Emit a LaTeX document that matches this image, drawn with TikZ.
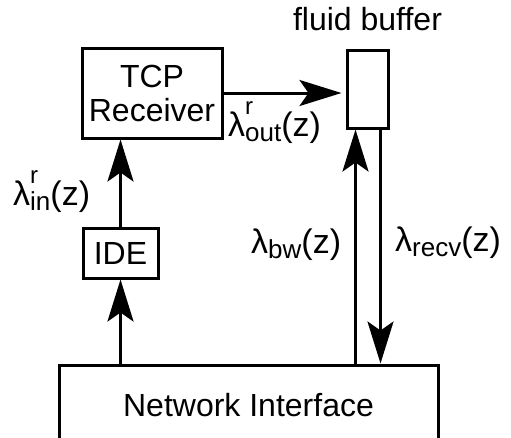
\documentclass[tikz,border=0pt]{standalone}
\usepackage{fontspec}
\setmainfont{Liberation Sans}
\usetikzlibrary{arrows.meta,positioning}

\newcommand{\rate}[2]{λ\rlap{\raisebox{22pt}{\fontsize{24}{24}\selectfont #1}}\raisebox{-5pt}{\fontsize{26}{26}\selectfont #2}(z)}

\begin{document}
\begin{tikzpicture}[x=1pt,y=-1pt,font=\fontsize{32}{34}\selectfont]
    \tikzstyle{box}=[rectangle,draw=black,line width=3pt,inner sep=0pt,align=center]
    \tikzstyle{lbl}=[inner sep=0pt,anchor=base west,font=\fontsize{34}{36}\selectfont]
    \tikzstyle{flow}=[line width=3pt,-{Stealth[length=42pt,width=26pt,inset=9pt]}]

    \useasboundingbox (0,0) rectangle (511,437);

    \node[box,minimum width=140pt,minimum height=90pt](tcp) at (152,93){TCP\\Receiver};
    \node[box,minimum width=41pt,minimum height=78pt](buf) at (367.5,89){};
    \node[inner sep=0pt,anchor=base](fluid) at ([yshift=18pt]buf.north){fluid buffer};
    \node[box,minimum width=75pt,minimum height=50pt](ide) at (120.5,253){IDE};
    \node[box,minimum width=379pt,minimum height=80pt](ni) at (248.5,405){Network Interface};

    \node[lbl](out) at (228,136){\rate{r}{out}};
    \node[lbl](in) at (13,205){\rate{r}{in}};
    \node[lbl](bw) at (251,253){\rate{}{bw}};
    \node[lbl](recv) at (395,251){\rate{}{recv}};

    \path[flow]
    (ni.north -| ide.south) edge (ide.south)
    (ide.north) edge (ide.north |- tcp.south)
    (tcp.east) edge ([xshift=-4pt]tcp.east -| buf.west)
    ([xshift=-12pt]buf.south |- ni.north) edge ([xshift=-12pt]buf.south)
    ([xshift=13pt]buf.south) edge ([xshift=13pt]buf.south |- ni.north);
\end{tikzpicture}
\end{document}
